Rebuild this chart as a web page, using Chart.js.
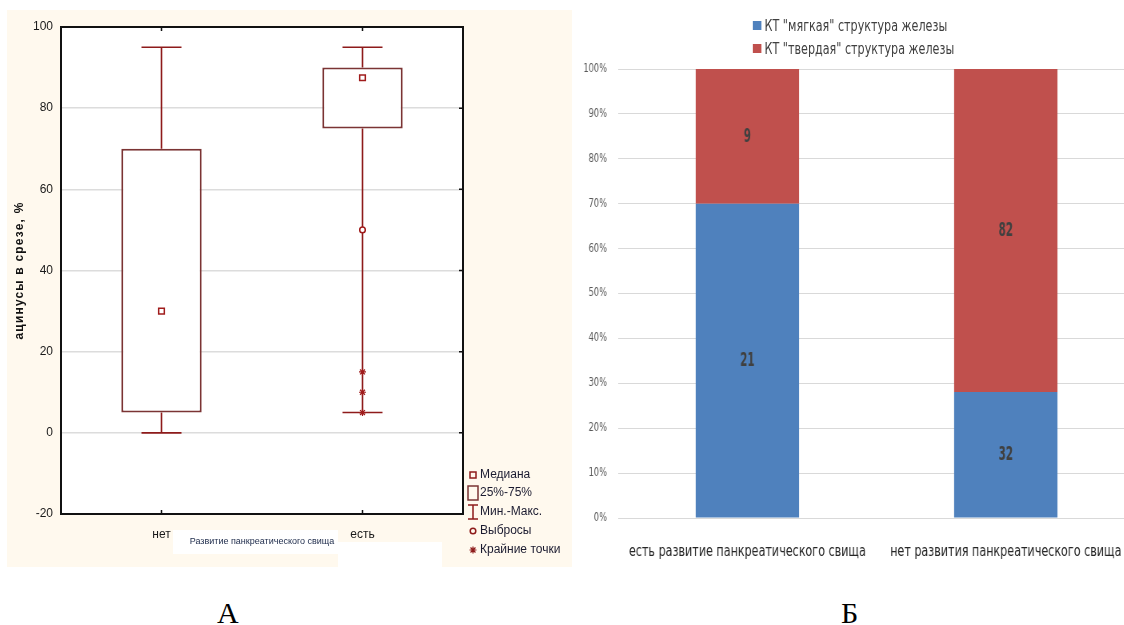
<!DOCTYPE html>
<html>
<head>
<meta charset="utf-8">
<script src="https://cdn.jsdelivr.net/npm/chart.js@4.4.1/dist/chart.umd.min.js"></script>
<style>
  html, body { margin: 0; padding: 0; background: #fff; width: 1124px; height: 625px; overflow: hidden; position: relative; }
  #panelA { position: absolute; left: 7px; top: 10px; width: 565px; height: 557px; background: #fff9ee; }
  .patch { position: absolute; background: #fff; }
  #wrapA { position: absolute; left: 7px; top: 10px; width: 565px; height: 557px; }
  /* panel B is laid out wide and compressed horizontally */
  #wrapB { position: absolute; left: 575px; top: 0; width: 706px; height: 590px; transform: scaleX(0.8); transform-origin: 0 0; }
  #legendB { position: absolute; left: 222px; top: 14px; font: 15.5px "DejaVu Sans Condensed", "Liberation Sans Narrow", sans-serif; color: #404040; }
  #legendB .row { display: flex; align-items: center; height: 23px; white-space: nowrap; }
  #legendB .sw { width: 11px; height: 9px; margin-right: 4px; }
  .tag { position: absolute; font: 30px "Liberation Serif", "Times New Roman", serif; color: #000; line-height: 1; }
</style>
</head>
<body>
<div id="panelA"></div>
<div class="patch" style="left:173px;top:530px;width:165px;height:24px;"></div>
<div class="patch" style="left:338px;top:542px;width:104px;height:25px;"></div>
<div id="wrapA"><canvas id="chartA" width="565" height="557"></canvas></div>
<div id="wrapB"><canvas id="chartB" width="706" height="590"></canvas><div id="legendB"></div></div>
<div class="tag" style="left:217px;top:598px;">А</div>
<div class="tag" style="left:841px;top:598px;">Б</div>

<script>
// ---- Panel A: acini share by fistula development (box plot) ----
const groupsA = ['нет', 'есть'];
const boxMin = [0, 5];
const boxQ1 = [5, 75];
const boxMedian = [30, 87.5];
const boxQ3 = [70, 90];
const boxMax = [95, 95];
const outlierValues = [null, 50];
const extremeGroups = ['есть', 'есть', 'есть'];
const extremeValues = [5, 10, 15];
const yTicksA = [-20, 0, 20, 40, 60, 80, 100];
const legendA = ['Медиана', '25%-75%', 'Мин.-Макс.', 'Выбросы', 'Крайние точки'];

// ---- Panel B: CT gland structure by fistula development (100% stacked) ----
const groupsB = ['есть развитие панкреатического свища', 'нет развития панкреатического свища'];
const seriesNamesB = ['КТ "мягкая" структура железы', 'КТ "твердая" структура железы'];
const softCounts = [21, 32];
const hardCounts = [9, 82];
const yTicksB = [0, 10, 20, 30, 40, 50, 60, 70, 80, 90, 100];

const MAROON = '#8e1b1b';
const BOX_EDGE = '#7b3434';
const SANS = '"Liberation Sans", Arial, sans-serif';
const COND = '"DejaVu Sans Condensed", "Liberation Sans Narrow", sans-serif';

const boxPlotPlugin = {
  id: 'boxPlot',
  afterLayout(chart) {
    // spaced lettering for the value-axis caption
    const s = chart.scales.y;
    if (!s._spacedTitle) {
      const orig = s.drawTitle;
      s.drawTitle = function () {
        const c = this.ctx;
        c.letterSpacing = '1.2px';
        orig.apply(this, arguments);
        c.letterSpacing = '0px';
      };
      s._spacedTitle = true;
    }
  },
  beforeDraw(chart) {
    const { ctx, chartArea: a } = chart;
    ctx.save();
    ctx.fillStyle = '#ffffff';
    ctx.fillRect(a.left, a.top, a.right - a.left, a.bottom - a.top);
    ctx.restore();
  },
  beforeDatasetsDraw(chart) {
    const { ctx, scales: { x, y } } = chart;
    ctx.save();
    ctx.strokeStyle = MAROON;
    ctx.lineWidth = 1.6;
    const cap = 20;
    groupsA.forEach((g, i) => {
      const px = x.getPixelForValue(i);
      [[boxQ3[i], boxMax[i]], [boxQ1[i], boxMin[i]]].forEach(([from, to]) => {
        ctx.beginPath();
        ctx.moveTo(px, y.getPixelForValue(from));
        ctx.lineTo(px, y.getPixelForValue(to));
        ctx.moveTo(px - cap, y.getPixelForValue(to));
        ctx.lineTo(px + cap, y.getPixelForValue(to));
        ctx.stroke();
      });
    });
    ctx.restore();
  },
  afterDraw(chart) {
    const { ctx, chartArea: a, scales: { x, y } } = chart;
    ctx.save();
    // frame
    ctx.strokeStyle = '#111';
    ctx.lineWidth = 2;
    ctx.strokeRect(a.left, a.top, a.right - a.left, a.bottom - a.top);
    // inward tick marks
    ctx.lineWidth = 1.5;
    ctx.beginPath();
    groupsA.forEach((g, i) => {
      const px = x.getPixelForValue(i);
      ctx.moveTo(px, a.top); ctx.lineTo(px, a.top + 4);
      ctx.moveTo(px, a.bottom); ctx.lineTo(px, a.bottom - 4);
    });
    yTicksA.slice(1, -1).forEach(v => {
      const py = y.getPixelForValue(v);
      ctx.moveTo(a.right, py); ctx.lineTo(a.right - 4, py);
    });
    ctx.stroke();

    // legend
    const sx = 466, tx = 473;
    const rows = [465, 483, 502, 521, 540];
    ctx.font = '12px ' + SANS;
    ctx.fillStyle = '#1b1b30';
    ctx.textBaseline = 'middle';
    legendA.forEach((t, k) => ctx.fillText(t, tx, rows[k]));
    ctx.strokeStyle = MAROON;
    ctx.lineWidth = 1.5;
    ctx.strokeRect(sx - 3, rows[0] - 3, 6, 6);
    ctx.strokeStyle = BOX_EDGE;
    ctx.strokeRect(sx - 5, rows[1] - 7, 10, 14);
    ctx.strokeStyle = MAROON;
    ctx.beginPath();
    ctx.moveTo(sx - 5, rows[2] - 7); ctx.lineTo(sx + 5, rows[2] - 7);
    ctx.moveTo(sx, rows[2] - 7); ctx.lineTo(sx, rows[2] + 7);
    ctx.moveTo(sx - 5, rows[2] + 7); ctx.lineTo(sx + 5, rows[2] + 7);
    ctx.stroke();
    ctx.beginPath();
    ctx.arc(sx, rows[3], 2.8, 0, Math.PI * 2);
    ctx.stroke();
    ctx.lineWidth = 1.2;
    ctx.beginPath();
    const r = 3.5, rr = r * Math.SQRT1_2;
    ctx.moveTo(sx, rows[4] - r); ctx.lineTo(sx, rows[4] + r);
    ctx.moveTo(sx - r, rows[4]); ctx.lineTo(sx + r, rows[4]);
    ctx.moveTo(sx - rr, rows[4] - rr); ctx.lineTo(sx + rr, rows[4] + rr);
    ctx.moveTo(sx - rr, rows[4] + rr); ctx.lineTo(sx + rr, rows[4] - rr);
    ctx.stroke();
    ctx.restore();
  }
};

new Chart(document.getElementById('chartA'), {
  type: 'bar',
  data: {
    labels: groupsA,
    datasets: [
      {
        type: 'bar',
        label: '25%-75%',
        data: groupsA.map((g, i) => [boxQ1[i], boxQ3[i]]),
        backgroundColor: '#ffffff',
        borderColor: BOX_EDGE,
        borderWidth: 2,
        borderSkipped: false,
        barPercentage: 0.4,
        categoryPercentage: 1,
        order: 4
      },
      {
        type: 'line',
        label: 'Медиана',
        data: boxMedian,
        showLine: false,
        pointStyle: 'rect',
        pointRadius: 4,
        pointBackgroundColor: '#ffffff',
        pointBorderColor: '#a01c1c',
        pointBorderWidth: 1.5,
        order: 1
      },
      {
        type: 'line',
        label: 'Выбросы',
        data: outlierValues,
        showLine: false,
        pointStyle: 'circle',
        pointRadius: 2.8,
        pointBackgroundColor: '#ffffff',
        pointBorderColor: '#a01c1c',
        pointBorderWidth: 1.5,
        order: 2
      },
      {
        type: 'line',
        label: 'Крайние точки',
        data: extremeValues.map((v, i) => ({ x: extremeGroups[i], y: v })),
        showLine: false,
        pointStyle: 'star',
        pointRadius: 3.5,
        pointBorderColor: '#a01c1c',
        pointBorderWidth: 1.2,
        order: 3
      }
    ]
  },
  options: {
    responsive: false,
    animation: false,
    events: [],
    layout: { padding: { top: 17, right: 109, left: 0, bottom: 0 } },
    plugins: { legend: { display: false }, tooltip: { enabled: false } },
    scales: {
      x: {
        grid: { display: false, drawTicks: false },
        border: { display: false },
        ticks: { font: { family: SANS, size: 12 }, color: '#1a1a1a', padding: 13 },
        title: {
          display: true,
          text: 'Развитие панкреатического свища',
          font: { family: SANS, size: 9 },
          color: '#23304f',
          padding: { top: 0, bottom: 20 }
        },
        afterFit(s) { s.height = 53; }
      },
      y: {
        min: -20,
        max: 100,
        afterBuildTicks(s) { s.ticks = yTicksA.map(v => ({ value: v })); },
        ticks: { font: { family: SANS, size: 12 }, color: '#1a1a1a', padding: 8 },
        grid: {
          drawTicks: false,
          lineWidth: 1.5,
          color: c => (c.tick && (c.tick.value === -20 || c.tick.value === 100)) ? 'rgba(0,0,0,0)' : '#dcdcdc'
        },
        border: { display: false },
        title: {
          display: true,
          text: 'ацинусы в срезе, %',
          font: { family: SANS, size: 12, weight: 'bold' },
          color: '#111',
          padding: { top: 5, bottom: 0 }
        },
        afterFit(s) { s.width = 54; }
      }
    }
  },
  plugins: [boxPlotPlugin]
});

// ---- Panel B ----
const totalsB = softCounts.map((v, i) => v + hardCounts[i]);
const countsB = [softCounts, hardCounts];
const colorsB = ['#4f81bd', '#c0504d'];

const countLabels = {
  id: 'countLabels',
  afterDatasetsDraw(chart) {
    const { ctx } = chart;
    chart.data.datasets.forEach((ds, d) => {
      chart.getDatasetMeta(d).data.forEach((el, i) => {
        ctx.save();
        ctx.translate(el.x, (el.y + el.base) / 2);
        ctx.scale(0.72, 1);
        ctx.font = 'bold 20px ' + COND;
        ctx.fillStyle = '#404040';
        ctx.textAlign = 'center';
        ctx.textBaseline = 'middle';
        ctx.fillText(String(countsB[d][i]), 0, 0);
        ctx.restore();
      });
    });
  }
};

new Chart(document.getElementById('chartB'), {
  type: 'bar',
  data: {
    labels: groupsB,
    datasets: seriesNamesB.map((name, d) => ({
      label: name,
      data: countsB[d].map((v, i) => v / totalsB[i] * 100),
      backgroundColor: colorsB[d],
      borderWidth: 0,
      barPercentage: 0.4,
      categoryPercentage: 1
    }))
  },
  options: {
    responsive: false,
    animation: false,
    events: [],
    layout: { padding: { top: 69, right: 6, left: 0, bottom: 0 } },
    plugins: { legend: { display: false }, tooltip: { enabled: false } },
    scales: {
      x: {
        stacked: true,
        grid: { display: false, drawTicks: false },
        border: { display: false },
        ticks: { font: { family: COND, size: 15.5 }, color: '#262626', padding: 25, maxRotation: 0, autoSkip: false },
        afterFit(s) { s.height = 72; s.paddingLeft = 0; s.paddingRight = 0; }
      },
      y: {
        stacked: true,
        min: 0,
        max: 100,
        afterBuildTicks(s) { s.ticks = yTicksB.map(v => ({ value: v })); },
        ticks: { font: { family: COND, size: 11.5 }, color: '#595959', padding: 14, callback: v => v + '%' },
        grid: { drawTicks: false, color: '#d9d9d9', lineWidth: 1 },
        border: { display: false },
        afterFit(s) { s.width = 54; }
      }
    }
  },
  plugins: [countLabels]
});

// legend for panel B
const legendB = document.getElementById('legendB');
seriesNamesB.forEach((name, d) => {
  const row = document.createElement('div');
  row.className = 'row';
  const sw = document.createElement('span');
  sw.className = 'sw';
  sw.style.background = colorsB[d];
  const t = document.createElement('span');
  t.textContent = name;
  row.appendChild(sw);
  row.appendChild(t);
  legendB.appendChild(row);
});
</script>
</body>
</html>
